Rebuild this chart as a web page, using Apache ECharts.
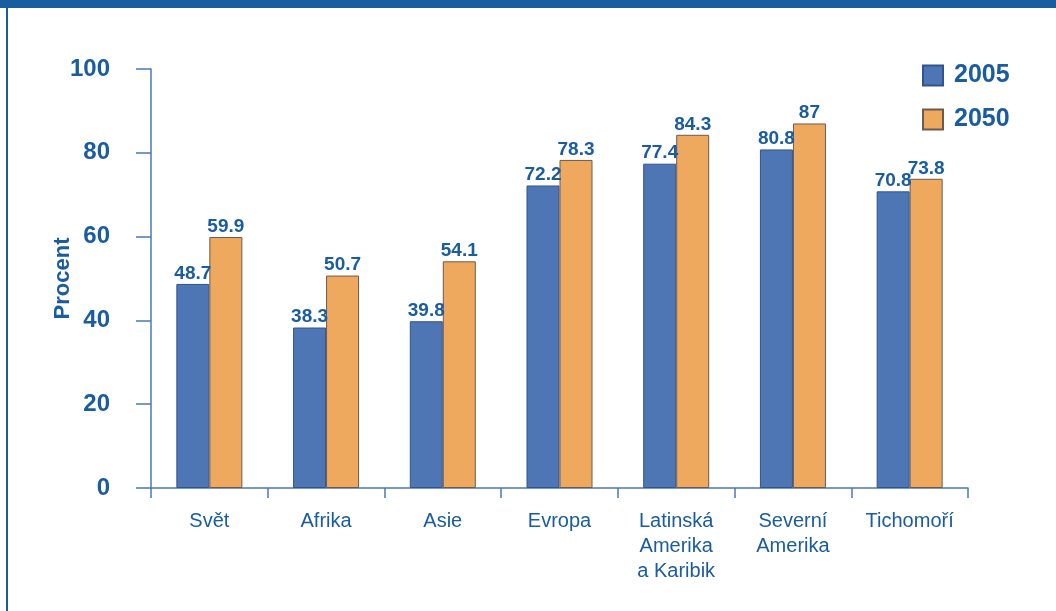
<!DOCTYPE html>
<html>
<head>
<meta charset="utf-8">
<script src="https://cdn.jsdelivr.net/npm/echarts@6/dist/echarts.min.js"></script>
<style>
  html, body { margin: 0; padding: 0; background: #fff; }
  #frame {
    position: absolute; left: 0; top: 0; width: 1056px; height: 611px;
    box-sizing: border-box; border-top: 8px solid #1A5CA0;
  }
  #edge { position: absolute; left: 6px; top: 8px; width: 2px; height: 603px; background: #1A5CA0; }
  #chart { position: absolute; left: 0; top: 0; width: 1056px; height: 611px; }
</style>
</head>
<body>
<div id="frame"></div>
<div id="edge"></div>
<div id="chart"></div>
<script>
  const categories = ["Svět", "Afrika", "Asie", "Evropa", "Latinská\nAmerika\na Karibik", "Severní\nAmerika", "Tichomoří"];
  const values2005 = [48.7, 38.3, 39.8, 72.2, 77.4, 80.8, 70.8];
  const values2050 = [59.9, 50.7, 54.1, 78.3, 84.3, 87, 73.8];
  const seriesNames = ["2005", "2050"];

  const ink = "#1A5CA0";
  const font = "'Liberation Sans', Arial, sans-serif";

  const chart = echarts.init(document.getElementById("chart"), null, { renderer: "canvas" });

  const labelStyle = {
    show: true,
    position: "top",
    distance: 1,
    color: ink,
    fontFamily: font,
    fontWeight: "bold",
    fontSize: 19,
  };

  chart.setOption({
    animation: false,
    grid: { left: 151, right: 88, top: 69, bottom: 123, containLabel: false },
    legend: {
      orient: "vertical",
      left: 917,
      top: 58,
      icon: "rect",
      itemWidth: 20,
      itemHeight: 20,
      itemGap: 19,
      textStyle: { color: ink, fontFamily: font, fontWeight: "bold", fontSize: 25, padding: [4, 0, 0, 6] },
      data: seriesNames,
    },
    xAxis: {
      type: "category",
      data: categories,
      axisLine: { lineStyle: { color: "#4A78B8", width: 1.5 } },
      axisTick: { show: true, length: 10, alignWithLabel: false, lineStyle: { color: "#4A78B8", width: 1.5 } },
      axisLabel: {
        color: ink,
        fontFamily: font,
        fontSize: 20,
        lineHeight: 25,
        margin: 21,
        interval: 0,
      },
    },
    yAxis: {
      type: "value",
      min: 0,
      max: 100,
      interval: 20,
      name: "Procent",
      nameLocation: "middle",
      nameGap: 77,
      nameMoveOverlap: false,
      nameTextStyle: { color: ink, fontFamily: font, fontWeight: "bold", fontSize: 22 },
      axisLine: { show: true, lineStyle: { color: "#4A78B8", width: 1.5 } },
      axisTick: { show: true, length: 15, inside: false, lineStyle: { color: "#4A78B8", width: 1.5 } },
      splitLine: { show: false },
      axisLabel: { color: ink, fontFamily: font, fontWeight: "bold", fontSize: 24, margin: 41 },
    },
    series: [
      {
        name: seriesNames[0],
        type: "bar",
        data: values2005,
        barWidth: 33,
        barGap: "0%",
        itemStyle: { color: "#4F76B4", borderColor: "#2F548F", borderWidth: 1 },
        label: labelStyle,
      },
      {
        name: seriesNames[1],
        type: "bar",
        data: values2050,
        barWidth: 33,
        barGap: "0%",
        itemStyle: { color: "#EFA95F", borderColor: "#6A5A50", borderWidth: 1 },
        label: labelStyle,
      },
    ],
    tooltip: { show: false },
  });
</script>
</body>
</html>
